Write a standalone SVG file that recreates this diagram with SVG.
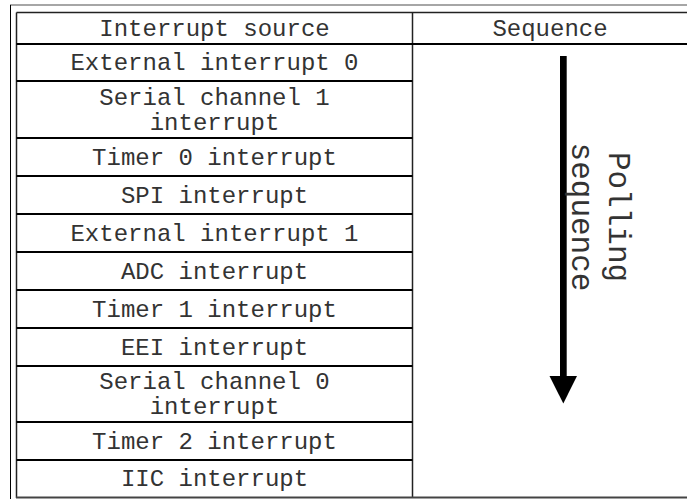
<svg xmlns="http://www.w3.org/2000/svg" width="687" height="499" viewBox="0 0 687 499">
<style>
.t{font-family:"Liberation Mono","Courier New",monospace;font-size:24px;fill:#333;text-anchor:middle}
.v{font-family:"Liberation Mono","Courier New",monospace;font-size:31px;fill:#333;text-anchor:middle}
.h{stroke:#000;stroke-width:2;fill:none}
.vl{stroke:#222;stroke-width:1.5;fill:none}
</style>
<rect width="687" height="499" fill="#fff"/>
<g id="frame">
<line x1="10" y1="5" x2="687" y2="5" stroke="#888" stroke-width="1.5"/>
<line x1="10.5" y1="5" x2="10.5" y2="499" stroke="#000" stroke-width="1"/>
<line x1="16.5" y1="12.5" x2="687" y2="12.5" stroke="#222" stroke-width="1.5"/>
<line x1="16.5" y1="12.5" x2="16.5" y2="498" class="vl" stroke="#555"/>
<line x1="412.5" y1="12.5" x2="412.5" y2="498" class="vl"/>
<line x1="16" y1="497.5" x2="687" y2="497.5" stroke="#444" stroke-width="2"/>
<line x1="16.5" y1="44" x2="687" y2="44" class="h"/>
</g>
<g id="rows">
<line x1="16.5" y1="81" x2="412.5" y2="81" class="h"/>
<line x1="16.5" y1="138" x2="412.5" y2="138" class="h"/>
<line x1="16.5" y1="176" x2="412.5" y2="176" class="h"/>
<line x1="16.5" y1="214" x2="412.5" y2="214" class="h"/>
<line x1="16.5" y1="252" x2="412.5" y2="252" class="h"/>
<line x1="16.5" y1="290" x2="412.5" y2="290" class="h"/>
<line x1="16.5" y1="328" x2="412.5" y2="328" class="h"/>
<line x1="16.5" y1="366" x2="412.5" y2="366" class="h"/>
<line x1="16.5" y1="422" x2="412.5" y2="422" class="h"/>
<line x1="16.5" y1="460" x2="412.5" y2="460" class="h"/>
</g>
<g id="header">
<text class="t" x="214.5" y="36">Interrupt source</text>
<text class="t" x="550" y="36">Sequence</text>
</g>
<g id="row1"><text class="t" x="214.5" y="70">External interrupt 0</text></g>
<g id="row2"><text class="t" x="214.5" y="104.5">Serial channel 1</text><text class="t" x="214.5" y="129.5">interrupt</text></g>
<g id="row3"><text class="t" x="214.5" y="164.5">Timer 0 interrupt</text></g>
<g id="row4"><text class="t" x="214.5" y="202.5">SPI interrupt</text></g>
<g id="row5"><text class="t" x="214.5" y="240.5">External interrupt 1</text></g>
<g id="row6"><text class="t" x="214.5" y="278.5">ADC interrupt</text></g>
<g id="row7"><text class="t" x="214.5" y="316.5">Timer 1 interrupt</text></g>
<g id="row8"><text class="t" x="214.5" y="354.5">EEI interrupt</text></g>
<g id="row9"><text class="t" x="214.5" y="389">Serial channel 0</text><text class="t" x="214.5" y="414">interrupt</text></g>
<g id="row10"><text class="t" x="214.5" y="448.5">Timer 2 interrupt</text></g>
<g id="row11"><text class="t" x="214.5" y="486">IIC interrupt</text></g>
<g id="connectors">
<rect x="560" y="56" width="6.7" height="322" fill="#000"/>
<polygon points="549.5,376 577,376 563.3,403.5" fill="#000"/>
</g>
<g id="label">
<text class="v" transform="translate(609,217) rotate(90)">Polling</text>
<text class="v" transform="translate(572,217) rotate(90)">sequence</text>
</g>
</svg>
